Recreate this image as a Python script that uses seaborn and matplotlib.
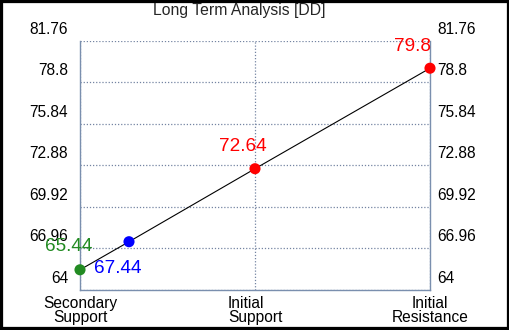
import matplotlib
matplotlib.use('Agg')
import numpy as np
import pandas as pd
import matplotlib.pyplot as plt
import matplotlib.transforms as mtransforms
from matplotlib.patches import Rectangle
import seaborn as sns

# データ
title = 'Long Term Analysis [DD]'
level_names = ['Secondary\nSupport', 'Initial\nSupport', 'Initial\nResistance']
level_pos = [0.0, 0.5, 1.0]
y_ticks = [64, 66.96, 69.92, 72.88, 75.84, 78.8, 81.76]
y_tick_labels = ['64', '66.96', '69.92', '72.88', '75.84', '78.8', '81.76']
point_x = [0.0, 0.14, 0.5, 1.0]
point_y = [65.44, 67.44, 72.64, 79.8]
point_name = ['Secondary Support', 'Current', 'Initial Support', 'Initial Resistance']
point_label = ['65.44', '67.44', '72.64', '79.8']

# 色とラベル位置 (ピクセル)
point_color = {'Secondary Support': '#228b22', 'Current': '#0000ff',
               'Initial Support': '#ff0000', 'Initial Resistance': '#ff0000'}
label_off = [(-11, 23), (-11, -27), (-12, 22), (-17, 22)]
grid_col = '#7484a2'
spine_col = '#7a8fae'

df = pd.DataFrame({'x': point_x, 'y': point_y, 'name': point_name})

sns.set_style('white')
plt.rcParams['font.family'] = ['Liberation Sans', 'DejaVu Sans']

fig = plt.figure(figsize=(5.1, 3.3), dpi=100)
ax = fig.add_axes([80/510, 40/330, 350/510, 249.3/330])

sns.lineplot(data=df, x='x', y='y', color='black', linewidth=0.8,
             sort=False, estimator=None, ax=ax, zorder=2)
sns.scatterplot(data=df, x='x', y='y', hue='name', palette=point_color,
                s=64, linewidth=0, legend=False, ax=ax, zorder=3,
                clip_on=False)

for i in range(len(point_x)):
    ax.annotate(point_label[i], (point_x[i], point_y[i]),
                xytext=label_off[i], textcoords='offset pixels',
                ha='center', va='center', fontsize=13.7,
                color=point_color[point_name[i]], zorder=4)

ax.set_xlim(0, 1)
ax.set_ylim(64, 81.76)
ax.set_xticks(level_pos)
ax.set_xticklabels(level_names, fontsize=11.2, linespacing=0.95)
ax.set_yticks(y_ticks)
ax.set_yticklabels(y_tick_labels, fontsize=11.2)
ax.set_xlabel('')
ax.set_ylabel('')

ax.grid(True, color=grid_col, linestyle=(0, (1, 1.5)), linewidth=0.9)
ax.set_axisbelow(True)
ax.spines['top'].set_visible(False)
for s in ['left', 'right', 'bottom']:
    ax.spines[s].set_visible(True)
    ax.spines[s].set_color(spine_col)
    ax.spines[s].set_linewidth(1.0)

# pad はポイント単位
ax.tick_params(axis='y', length=0, pad=5, labelright=True, labelleft=True,
               colors='black')
ax.tick_params(axis='x', length=0, pad=4, colors='black')

# 目盛りラベルを線の少し上にずらす
up = mtransforms.ScaledTranslation(0, 13/100, fig.dpi_scale_trans)
left_shift = mtransforms.ScaledTranslation(-5/100, 13/100, fig.dpi_scale_trans)
for t in ax.yaxis.get_major_ticks():
    t.label1.set_horizontalalignment('right')
    t.label2.set_horizontalalignment('left')
    t.label1.set_transform(t.label1.get_transform() + left_shift)
    t.label2.set_transform(t.label2.get_transform() + up)
for t in ax.xaxis.get_major_ticks():
    t.label1.set_multialignment('center')
ax.xaxis.get_major_ticks()[1].label1.set_multialignment('left')

fig.text(239/510, 1 - 10/330, title, ha='center', va='center', fontsize=11.3)

# 外枠
fig.patches.append(Rectangle((0, 0), 1, 1, transform=fig.transFigure,
                             fill=False, edgecolor='black', linewidth=4.5))

fig.savefig('out.png', dpi=100)
